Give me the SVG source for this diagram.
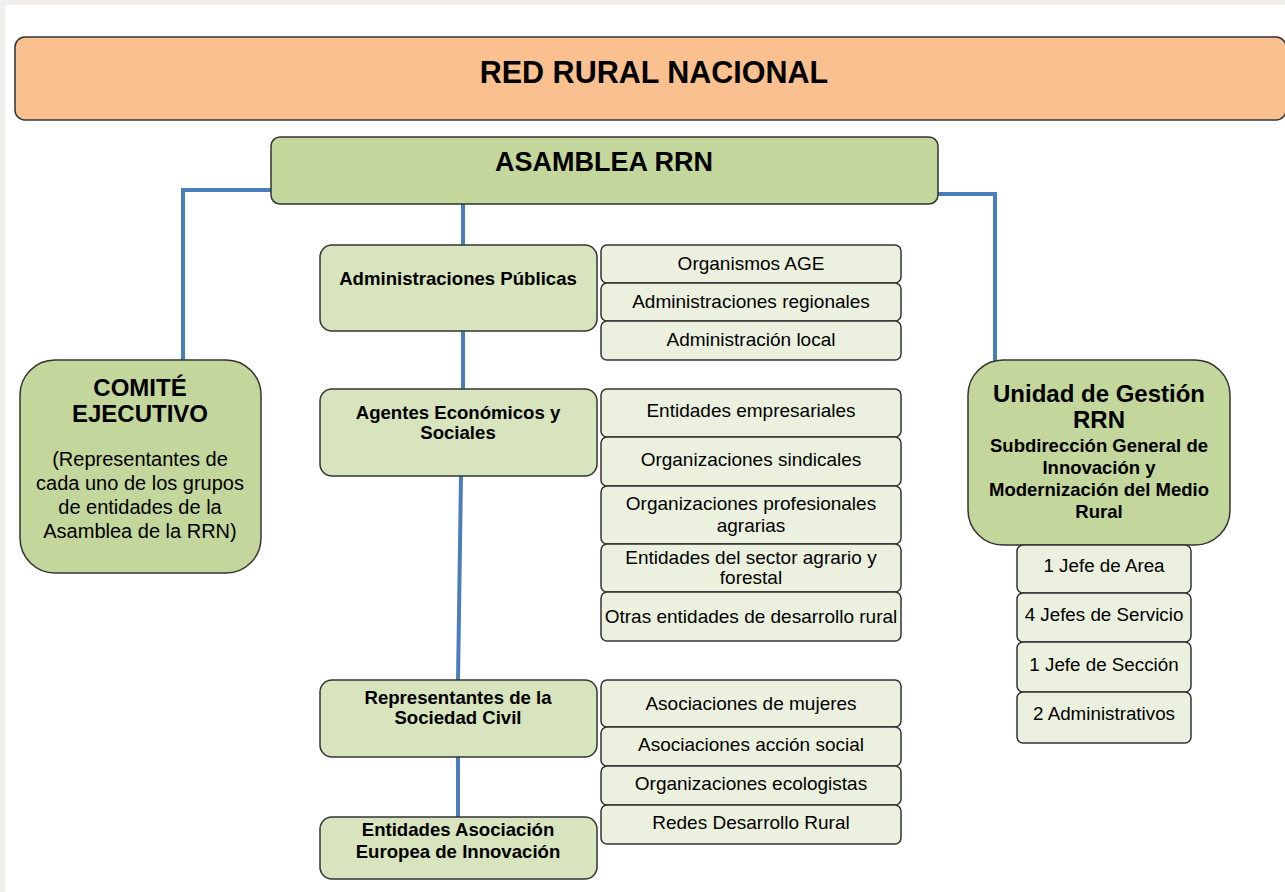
<svg xmlns="http://www.w3.org/2000/svg" width="1285" height="892" viewBox="0 0 1285 892">
<style>
text{font-family:"Liberation Sans",Arial,sans-serif;fill:#000;text-anchor:middle}
.b{font-weight:bold}
.box{stroke:#333;stroke-width:1.5}
.top{fill:#fac090}
.mid{fill:#c3d69b}
.cat{fill:#d7e4bd}
.sub{fill:#ebf1de}
.c{fill:none;stroke:#4a7ebb;stroke-width:4}
.tc{font-size:18.6px;font-weight:bold}
.ts{font-size:19px}
.tj{font-size:18.8px}
</style>
<rect x="0" y="0" width="1285" height="892" fill="#ffffff"/>
<rect x="0" y="0" width="1285" height="5" fill="#efeeea"/>
<rect x="0" y="0" width="5" height="892" fill="#efeeea"/>
<g id="connectors">
<path class="c" d="M272 190 H183 V361"/>
<path class="c" d="M937 194 H995 V361"/>
<path class="c" d="M463 204 V246"/>
<path class="c" d="M463 331 V390"/>
<path class="c" d="M461 476 L458 681"/>
<path class="c" d="M458 757 V818"/>
</g>
<g id="title"><rect class="box top" x="15" y="37" width="1271" height="83" rx="10"/><text class="b" x="654" y="83" font-size="30.5">RED RURAL NACIONAL</text></g>
<g id="asamblea"><rect class="box mid" x="271" y="137" width="667" height="67" rx="9"/><text class="b" x="604" y="171" font-size="27">ASAMBLEA RRN</text></g>
<g id="comite"><rect class="box mid" x="20" y="360" width="241" height="213" rx="35"/>
<text class="b" x="140" y="396" font-size="24">COMITÉ</text><text class="b" x="140" y="422" font-size="24">EJECUTIVO</text>
<text x="140" y="466" font-size="20">(Representantes de</text><text x="140" y="490" font-size="20">cada uno de los grupos</text><text x="140" y="514" font-size="20">de entidades de la</text><text x="140" y="538" font-size="20">Asamblea de la RRN)</text></g>
<g id="unidad"><rect class="box mid" x="968" y="360" width="262" height="185" rx="35"/>
<text class="b" x="1099" y="402" font-size="24">Unidad de Gestión</text><text class="b" x="1099" y="428" font-size="24">RRN</text>
<text class="b" x="1099" y="452" font-size="18.5">Subdirección General de</text><text class="b" x="1099" y="474" font-size="18.5">Innovación y</text><text class="b" x="1099" y="496" font-size="18.5">Modernización del Medio</text><text class="b" x="1099" y="518" font-size="18.5">Rural</text></g>
<g id="jefe-area"><rect class="box sub" x="1017" y="545" width="174" height="48" rx="6"/><text class="tj" x="1104" y="572">1 Jefe de Area</text></g>
<g id="jefes-servicio"><rect class="box sub" x="1017" y="593" width="174" height="49" rx="6"/><text class="tj" x="1104" y="621">4 Jefes de Servicio</text></g>
<g id="jefe-seccion"><rect class="box sub" x="1017" y="642" width="174" height="50" rx="6"/><text class="tj" x="1104" y="671">1 Jefe de Sección</text></g>
<g id="administrativos"><rect class="box sub" x="1017" y="692" width="174" height="51" rx="6"/><text class="tj" x="1104" y="720">2 Administrativos</text></g>
<g id="admin-publicas"><rect class="box cat" x="320" y="245" width="277" height="86" rx="12"/><text class="tc" x="458" y="285">Administraciones Públicas</text></g>
<g id="agentes"><rect class="box cat" x="320" y="389" width="277" height="87" rx="12"/><text class="tc" x="458" y="419">Agentes Económicos y</text><text class="tc" x="458" y="439">Sociales</text></g>
<g id="sociedad-civil"><rect class="box cat" x="320" y="680" width="277" height="77" rx="12"/><text class="tc" x="458" y="704">Representantes de la</text><text class="tc" x="458" y="724">Sociedad Civil</text></g>
<g id="aei"><rect class="box cat" x="320" y="817" width="277" height="62" rx="12"/><text class="tc" x="458" y="836">Entidades Asociación</text><text class="tc" x="458" y="858">Europea de Innovación</text></g>
<g id="organismos-age"><rect class="box sub" x="601" y="245" width="300" height="38" rx="6"/><text class="ts" x="751" y="270">Organismos AGE</text></g>
<g id="admin-regionales"><rect class="box sub" x="601" y="283" width="300" height="38" rx="6"/><text class="ts" x="751" y="308">Administraciones regionales</text></g>
<g id="admin-local"><rect class="box sub" x="601" y="321" width="300" height="39" rx="6"/><text class="ts" x="751" y="346">Administración local</text></g>
<g id="empresariales"><rect class="box sub" x="601" y="389" width="300" height="48" rx="6"/><text class="ts" x="751" y="417">Entidades empresariales</text></g>
<g id="sindicales"><rect class="box sub" x="601" y="437" width="300" height="49" rx="6"/><text class="ts" x="751" y="466">Organizaciones sindicales</text></g>
<g id="profesionales"><rect class="box sub" x="601" y="486" width="300" height="58" rx="6"/><text class="ts" x="751" y="510">Organizaciones profesionales</text><text class="ts" x="751" y="532">agrarias</text></g>
<g id="sector-agrario"><rect class="box sub" x="601" y="544" width="300" height="48" rx="6"/><text class="ts" x="751" y="564">Entidades del sector agrario y</text><text class="ts" x="751" y="584">forestal</text></g>
<g id="otras"><rect class="box sub" x="601" y="592" width="300" height="49" rx="6"/><text class="ts" x="751" y="623">Otras entidades de desarrollo rural</text></g>
<g id="mujeres"><rect class="box sub" x="601" y="680" width="300" height="47" rx="6"/><text class="ts" x="751" y="710">Asociaciones de mujeres</text></g>
<g id="accion-social"><rect class="box sub" x="601" y="727" width="300" height="39" rx="6"/><text class="ts" x="751" y="751">Asociaciones acción social</text></g>
<g id="ecologistas"><rect class="box sub" x="601" y="766" width="300" height="39" rx="6"/><text class="ts" x="751" y="790">Organizaciones ecologistas</text></g>
<g id="redes"><rect class="box sub" x="601" y="805" width="300" height="39" rx="6"/><text class="ts" x="751" y="829">Redes Desarrollo Rural</text></g>
</svg>
